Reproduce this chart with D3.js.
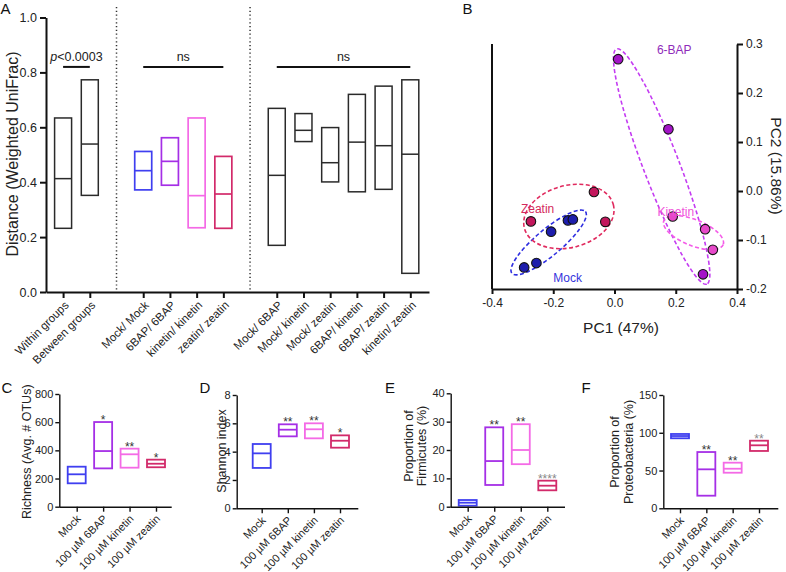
<!DOCTYPE html>
<html><head><meta charset="utf-8">
<script src="https://cdn.jsdelivr.net/npm/d3@7"></script>
<style>
body{margin:0;background:#fff;}
svg{display:block;font-family:"Liberation Sans",Arial,Helvetica,sans-serif;}
</style></head><body>
<svg id="chart" width="786" height="572"></svg>
<script>
// ================= DATA =================
// Panel A: weighted UniFrac distances (floating bars: min / median / max)
const groupsA = [
  ["Within groups", "Between groups"],
  ["Mock/ Mock", "6BAP/ 6BAP", "kinetin/ kinetin", "zeatin/ zeatin"],
  ["Mock/ 6BAP", "Mock/ kinetin", "Mock/ zeatin", "6BAP/ kinetin", "6BAP/ zeatin", "kinetin/ zeatin"]
];
const minA = [0.232, 0.352, 0.372, 0.389, 0.234, 0.232, 0.170, 0.548, 0.401, 0.365, 0.374, 0.068];
const medA = [0.413, 0.539, 0.442, 0.476, 0.351, 0.357, 0.425, 0.589, 0.471, 0.546, 0.533, 0.502];
const maxA = [0.634, 0.773, 0.512, 0.562, 0.634, 0.494, 0.669, 0.650, 0.599, 0.720, 0.750, 0.773];
const yTicksA = [0, 0.2, 0.4, 0.6, 0.8, 1.0];
const sigA = [
  {from: "Within groups", to: "Between groups", label: "p<0.0003", level: 0.82},
  {from: "Mock/ Mock", to: "zeatin/ zeatin", label: "ns", level: 0.82},
  {from: "Mock/ 6BAP", to: "kinetin/ zeatin", label: "ns", level: 0.82}
];

// Panel B: PCoA (PC1, PC2)
const pcoaGroups = ["Mock", "Zeatin", "6-BAP", "Kinetin"];
const pc1Mock = [-0.295, -0.255, -0.207, -0.152, -0.136];
const pc2Mock = [-0.156, -0.147, -0.083, -0.060, -0.058];
const pc1Zeatin = [-0.273, -0.067, -0.030];
const pc2Zeatin = [-0.062, -0.002, -0.063];
const pc1BAP = [0.012, 0.176, 0.289];
const pc2BAP = [0.269, 0.126, -0.170];
const pc1Kinetin = [0.190, 0.296, 0.321];
const pc2Kinetin = [-0.052, -0.078, -0.120];
const pc1Ticks = [-0.4, -0.2, 0.0, 0.2, 0.4];
const pc2Ticks = [-0.2, -0.1, 0.0, 0.1, 0.2, 0.3];
// group ellipse centres (data units)
const ellCx = [-0.215, -0.149, 0.154, 0.258];
const ellCy = [-0.105, -0.052, 0.050, -0.085];
// group label anchors (data units)
const lblX = [-0.153, -0.251, 0.195, 0.200];
const lblY = [-0.185, -0.045, 0.279, -0.050];

// Panels C-F
const treatments = ["Mock", "100 µM 6BAP", "100 µM kinetin", "100 µM zeatin"];
const treatKeys = ["Mock", "6BAP", "kinetin", "zeatin"];
const richMin = [166, 272, 277, 280], richMed = [230, 395, 372, 305], richMax = [284, 601, 412, 334];
const richStars = ["", "*", "**", "*"];
const richTicks = [0, 200, 400, 600, 800];
const shanMin = [2.85, 5.08, 4.94, 4.28], shanMed = [3.88, 5.55, 5.58, 4.77], shanMax = [4.54, 5.93, 6.00, 5.15];
const shanStars = ["", "**", "**", "*"];
const shanTicks = [0, 2, 4, 6, 8];
const firmMin = [0.35, 7.66, 15.0, 5.78], firmMed = [1.41, 16.1, 20.0, 7.41], firmMax = [2.36, 28.0, 29.1, 9.18];
const firmStars = ["", "**", "**", "****"];
const firmTicks = [0, 10, 20, 30, 40];
const protMin = [92.7, 16.7, 47.1, 75.9], protMed = [95.7, 51.6, 52.4, 83.4], protMax = [98.4, 74.5, 60.4, 89.5];
const protStars = ["", "**", "**", "**"];
const protTicks = [0, 50, 100, 150];

// ================= STYLE / LAYOUT =================
const colors = {Mock: "#3f3ff0", "6BAP": "#a52fe6", kinetin: "#f46ae6", zeatin: "#d22a6a", other: "#2a2a2a"};
const ptFill = {Mock: "#1d1dac", Zeatin: "#c2175c", "6-BAP": "#a414c8", Kinetin: "#e649c9"};
const ellColor = {Mock: "#2e2ee0", Zeatin: "#e02a5e", "6-BAP": "#c43cf2", Kinetin: "#f45ce8"};
const lblColor = {Mock: "#3434dc", Zeatin: "#d42a5c", "6-BAP": "#8f2cba", Kinetin: "#f052da"};
const ellShape = {Mock: [48, 13, -40], Zeatin: [46, 31, -15], "6-BAP": [126, 18, 69], Kinetin: [32, 13, 22]};
const TXT = "#222";

const svg = d3.select("#chart");
svg.append("rect").attr("width", 786).attr("height", 572).attr("fill", "#fff");

// panel letters
[["A", 0.5, 13.5], ["B", 462.5, 13.5], ["C", 1.5, 392.5], ["D", 199.5, 392.5], ["E", 385, 392.5], ["F", 581.5, 392.5]]
  .forEach(([t, x, y]) => svg.append("text").attr("x", x).attr("y", y).attr("font-size", 15).attr("fill", "#111").text(t));

function styleAxis(g, w) {
  g.select(".domain").attr("stroke", "#111").attr("stroke-width", w);
  g.selectAll(".tick line").attr("stroke", "#111").attr("stroke-width", w);
  g.selectAll(".tick text").attr("fill", TXT).attr("font-family", null);
  g.attr("font-family", null);
}

// ================= PANEL A =================
(function () {
  const cats = groupsA.flat();
  const slots = [], seps = [], keys = [];
  let s = 0;
  groupsA.forEach((grp, gi) => {
    if (gi > 0) { seps.push(s); s++; }
    grp.forEach(c => {
      slots.push(s); s++;
      keys.push(gi === 1 ? c.split("/")[0] : "other");
    });
  });
  const x = d3.scaleLinear().domain([-0.64, 13.7]).range([46, 429]);
  const y = d3.scaleLinear().domain([0, 1]).range([292, 17.5]);
  const g = svg.append("g");

  // dotted separators
  seps.forEach(sp => g.append("line").attr("x1", x(sp)).attr("x2", x(sp)).attr("y1", 7).attr("y2", y(0))
    .attr("stroke", "#333").attr("stroke-width", 1.5).attr("stroke-dasharray", "1.2,2.6"));

  const bw = 17;
  cats.forEach((c, i) => {
    const col = colors[keys[i]];
    const sw = keys[i] === "other" ? 1.5 : 1.7;
    g.append("rect").attr("x", x(slots[i]) - bw / 2).attr("y", y(maxA[i]))
      .attr("width", bw).attr("height", y(minA[i]) - y(maxA[i]))
      .attr("fill", "none").attr("stroke", col).attr("stroke-width", sw);
    g.append("line").attr("x1", x(slots[i]) - bw / 2).attr("x2", x(slots[i]) + bw / 2)
      .attr("y1", y(medA[i])).attr("y2", y(medA[i])).attr("stroke", col).attr("stroke-width", sw);
  });

  // axes
  const ya = g.append("g").attr("transform", `translate(46,0)`)
    .call(d3.axisLeft(y).tickValues(yTicksA).tickFormat(d => d.toFixed(1)).tickSize(6).tickSizeOuter(0).tickPadding(3));
  styleAxis(ya, 2);
  ya.selectAll(".tick text").attr("font-size", 12.5);
  const xa = g.append("g").attr("transform", `translate(0,${y(0)})`)
    .call(d3.axisBottom(x).tickValues(slots).tickFormat((d, i) => cats[i]).tickSize(6).tickSizeOuter(0));
  styleAxis(xa, 2);
  xa.selectAll(".tick text").attr("font-size", 11.5).attr("text-anchor", "end")
    .attr("x", 0).attr("y", 0).attr("dy", "0.35em").attr("transform", "translate(3,11) rotate(-45)");

  // y label
  g.append("text").attr("transform", `translate(12.5,154) rotate(-90)`).attr("text-anchor", "middle")
    .attr("dy", "0.35em").attr("font-size", 16).attr("fill", TXT).text("Distance (Weighted UniFrac)");

  // significance
  sigA.forEach(sg => {
    const x1 = x(slots[cats.indexOf(sg.from)]), x2 = x(slots[cats.indexOf(sg.to)]);
    const yy = y(sg.level);
    g.append("line").attr("x1", x1).attr("x2", x2).attr("y1", yy).attr("y2", yy)
      .attr("stroke", "#111").attr("stroke-width", 2);
    const t = g.append("text").attr("x", (x1 + x2) / 2).attr("y", yy - 6).attr("text-anchor", "middle")
      .attr("font-size", 12.5).attr("fill", TXT);
    if (sg.label.startsWith("p")) {
      t.append("tspan").attr("font-style", "italic").text("p");
      t.append("tspan").text(sg.label.slice(1));
    } else t.text(sg.label);
  });
})();

// ================= PANEL B =================
(function () {
  const x = d3.scaleLinear().domain([-0.4, 0.4]).range([492, 737]);
  const y = d3.scaleLinear().domain([-0.2, 0.3]).range([289, 44]);
  const g = svg.append("g");
  const pts = {
    Mock: d3.zip(pc1Mock, pc2Mock), Zeatin: d3.zip(pc1Zeatin, pc2Zeatin),
    "6-BAP": d3.zip(pc1BAP, pc2BAP), Kinetin: d3.zip(pc1Kinetin, pc2Kinetin)
  };

  // frame / axes
  g.append("line").attr("x1", x(-0.4)).attr("x2", x(-0.4)).attr("y1", y(0.3)).attr("y2", y(-0.2))
    .attr("stroke", "#111").attr("stroke-width", 2);
  const xa = g.append("g").attr("transform", `translate(0,${y(-0.2)})`)
    .call(d3.axisBottom(x).tickValues(pc1Ticks).tickFormat(d => d.toFixed(1)).tickSize(5).tickSizeOuter(0).tickPadding(4));
  styleAxis(xa, 2);
  xa.selectAll(".tick text").attr("font-size", 12);
  const ya = g.append("g").attr("transform", `translate(${x(0.4)},0)`)
    .call(d3.axisRight(y).tickValues(pc2Ticks).tickFormat(d => d.toFixed(1)).tickSize(6).tickSizeOuter(0).tickPadding(3));
  styleAxis(ya, 2);
  ya.selectAll(".tick text").attr("font-size", 12);

  // ellipses
  pcoaGroups.forEach((grp, i) => {
    const [rx, ry, ang] = ellShape[grp];
    g.append("ellipse").attr("cx", 0).attr("cy", 0).attr("rx", rx).attr("ry", ry)
      .attr("transform", `translate(${x(ellCx[i])},${y(ellCy[i])}) rotate(${ang})`)
      .attr("fill", "none").attr("stroke", ellColor[grp]).attr("stroke-width", 1.6)
      .attr("stroke-dasharray", "4,2.5");
  });
  // points
  pcoaGroups.forEach(grp => {
    g.selectAll(null).data(pts[grp]).join("circle")
      .attr("cx", d => x(d[0])).attr("cy", d => y(d[1])).attr("r", 4.8)
      .attr("fill", ptFill[grp]).attr("stroke", "#111").attr("stroke-width", 1.1);
  });
  // labels
  pcoaGroups.forEach((grp, i) => {
    g.append("text").attr("x", x(lblX[i])).attr("y", y(lblY[i])).attr("text-anchor", "middle")
      .attr("font-size", 12).attr("fill", lblColor[grp]).text(grp);
  });
  // axis titles
  g.append("text").attr("x", 621).attr("y", 332.5).attr("text-anchor", "middle").attr("font-size", 15.5)
    .attr("fill", TXT).text("PC1 (47%)");
  g.append("text").attr("transform", `translate(776.5,166) rotate(90)`).attr("text-anchor", "middle")
    .attr("dy", "0.35em").attr("font-size", 15.5).attr("fill", TXT).text("PC2 (15.86%)");
})();

// ================= PANELS C-F =================
const smallPanels = [
  {mins: richMin, meds: richMed, maxs: richMax, stars: richStars, ticks: richTicks,
   ax: 59.3, end: 171.7, first: 76.7, last: 156, y0: 506.7, y1: 394,
   label: ["Richness (Avg. # OTUs)"], labelX: [26.7], labelY: 451.7},
  {mins: shanMin, meds: shanMed, maxs: shanMax, stars: shanStars, ticks: shanTicks,
   ax: 236.7, end: 358.3, first: 261.7, last: 340, y0: 508.3, y1: 395,
   label: ["Shannon index"], labelX: [221.7], labelY: 451},
  {mins: firmMin, meds: firmMed, maxs: firmMax, stars: firmStars, ticks: firmTicks,
   ax: 450.7, end: 565, first: 467.7, last: 547.3, y0: 506.7, y1: 393.3,
   label: ["Proportion of", "Firmicutes (%)"], labelX: [408.3, 421.7], labelY: 446, grayLast: true},
  {mins: protMin, meds: protMed, maxs: protMax, stars: protStars, ticks: protTicks,
   ax: 663.3, end: 778.3, first: 680, last: 759, y0: 508.3, y1: 395,
   label: ["Proportion of", "Proteobacteria (%)"], labelX: [615, 628.3], labelY: 452, grayLast: true}
];

smallPanels.forEach(p => {
  const g = svg.append("g");
  const x = d3.scalePoint().domain(treatments).range([p.first, p.last]);
  const dom = p.ticks[p.ticks.length - 1];
  const y = d3.scaleLinear().domain([0, dom]).range([p.y0, p.y1]);
  const bw = 18;

  treatments.forEach((t, i) => {
    const col = colors[treatKeys[i]];
    g.append("rect").attr("x", x(t) - bw / 2).attr("y", y(p.maxs[i]))
      .attr("width", bw).attr("height", Math.max(0, y(p.mins[i]) - y(p.maxs[i])))
      .attr("fill", "none").attr("stroke", col).attr("stroke-width", 1.8);
    g.append("line").attr("x1", x(t) - bw / 2).attr("x2", x(t) + bw / 2)
      .attr("y1", y(p.meds[i])).attr("y2", y(p.meds[i])).attr("stroke", col).attr("stroke-width", 1.8);
    if (p.stars[i]) {
      g.append("text").attr("x", x(t)).attr("y", y(p.maxs[i]) + 2).attr("text-anchor", "middle")
        .attr("font-size", 12).attr("fill", (p.grayLast && i === 3) ? "#888" : "#333").text(p.stars[i]);
    }
  });

  const ya = g.append("g").attr("transform", `translate(${p.ax},0)`)
    .call(d3.axisLeft(y).tickValues(p.ticks).tickFormat(d3.format("d")).tickSize(4).tickSizeOuter(0).tickPadding(2));
  styleAxis(ya, 1.4);
  ya.selectAll(".tick text").attr("font-size", 11);

  const xa = g.append("g").attr("transform", `translate(0,${p.y0})`)
    .call(d3.axisBottom(x).tickSize(5).tickSizeOuter(0));
  xa.select(".domain").remove();
  xa.append("line").attr("x1", p.ax).attr("x2", p.end).attr("y1", 0.5).attr("y2", 0.5)
    .attr("stroke", "#111").attr("stroke-width", 1.4);
  styleAxis(xa, 1.4);
  xa.selectAll(".tick text").attr("font-size", 11).attr("text-anchor", "end")
    .attr("x", 0).attr("y", 0).attr("dy", "0.35em").attr("transform", "translate(1.5,10) rotate(-45)");

  p.label.forEach((l, k) => {
    g.append("text").attr("transform", `translate(${p.labelX[k]},${p.labelY}) rotate(-90)`)
      .attr("text-anchor", "middle").attr("dy", "0.35em").attr("font-size", 12.5).attr("fill", TXT).text(l);
  });
});
</script>
</body></html>
